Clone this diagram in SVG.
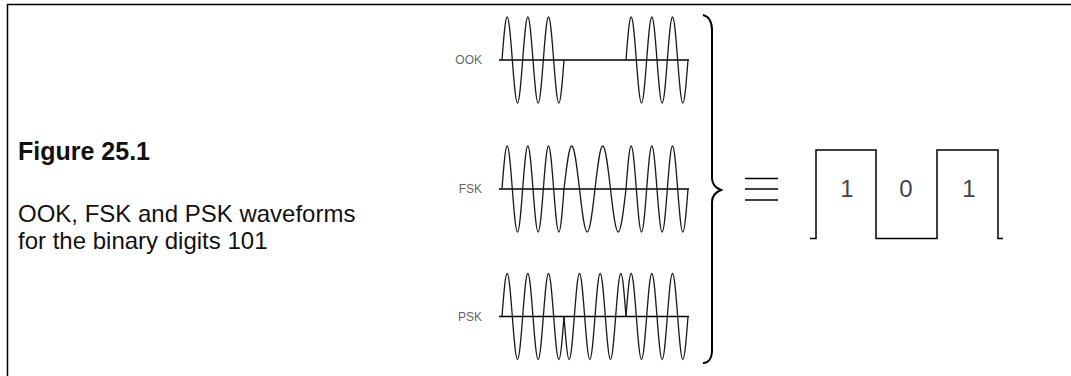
<svg xmlns="http://www.w3.org/2000/svg" xmlns:xlink="http://www.w3.org/1999/xlink" width="1071" height="376" viewBox="0 0 1071 376">
<style>
.txt{font-family:"Liberation Sans",Arial,sans-serif;fill:#111}
.lbl{font-family:"Liberation Sans",Arial,sans-serif;font-size:12px;fill:#666}
.dig{font-family:"Liberation Sans",Arial,sans-serif;font-size:24px;fill:#444;text-anchor:middle}
.wave{fill:none;stroke:#1a1a1a;stroke-width:1.3}
.axis{fill:none;stroke:#000;stroke-width:1.5}
.ln{fill:none;stroke:#000;stroke-width:1.5}
</style>
<defs>
<path id="b1" d="M0,0 c1.684,-22.02 3.296,-43 5.167,-43 c1.870,0 3.482,20.98 5.167,43 c1.684,22.02 3.296,43 5.167,43 c1.870,0 3.482,-20.98 5.167,-43 c1.684,-22.02 3.296,-43 5.167,-43 c1.870,0 3.482,20.98 5.167,43 c1.684,22.02 3.296,43 5.167,43 c1.870,0 3.482,-20.98 5.167,-43 c1.684,-22.02 3.296,-43 5.167,-43 c1.870,0 3.482,20.98 5.167,43 c1.684,22.02 3.296,43 5.167,43 c1.870,0 3.482,-20.98 5.167,-43"/>
<path id="b0" d="M0,0 c2.527,-22.02 4.945,-43 7.75,-43 c2.806,0 5.224,20.98 7.75,43 c2.527,22.02 4.945,43 7.75,43 c2.806,0 5.224,-20.98 7.75,-43 c2.527,-22.02 4.945,-43 7.75,-43 c2.806,0 5.224,20.98 7.75,43 c2.527,22.02 4.945,43 7.75,43 c2.806,0 5.224,-20.98 7.75,-43"/>
</defs>
<path id="frame" class="ln" d="M7.5,376 V4.5 H1071"/>
<g id="caption">
<text class="txt" x="18" y="160" font-size="25" font-weight="bold">Figure 25.1</text>
<text class="txt" x="18" y="222" font-size="24">OOK, FSK and PSK waveforms</text>
<text class="txt" x="18" y="249" font-size="24">for the binary digits 101</text>
</g>
<g id="ook">
<text class="lbl" x="482" y="64" text-anchor="end">OOK</text>
<line class="axis" x1="499" y1="60" x2="689" y2="60"/>
<use class="wave" xlink:href="#b1" x="502" y="60"/>
<use class="wave" xlink:href="#b1" x="626" y="60"/>
</g>
<g id="fsk">
<text class="lbl" x="482" y="193" text-anchor="end">FSK</text>
<line class="axis" x1="499" y1="189" x2="689" y2="189"/>
<use class="wave" xlink:href="#b1" x="502" y="189"/>
<use class="wave" xlink:href="#b0" x="564" y="189"/>
<use class="wave" xlink:href="#b1" x="626" y="189"/>
</g>
<g id="psk">
<text class="lbl" x="482" y="321" text-anchor="end">PSK</text>
<line class="axis" x1="499" y1="316.5" x2="689" y2="316.5"/>
<use class="wave" xlink:href="#b1" x="502" y="316.5"/>
<use class="wave" xlink:href="#b1" transform="translate(564,316.5) scale(1,-1)"/>
<use class="wave" xlink:href="#b1" x="626" y="316.5"/>
</g>
<g id="brace">
<path d="M703,15 C708,16 712,21 712,30 V178 C712,184 716,188 721,190 C716,192 712,196 712,202 V350 C712,359 708,363 703,363" fill="none" stroke="#000" stroke-width="2"/>
</g>
<g id="equiv">
<path class="ln" d="M745,178.5 H778 M745,189 H778 M745,200 H778"/>
</g>
<g id="bits">
<path class="ln" d="M810,238.5 H816 V150 H876 V238.5 H937 V150 H998 V238.5 H1003"/>
<text class="dig" x="847" y="197">1</text>
<text class="dig" x="906" y="197">0</text>
<text class="dig" x="969" y="197">1</text>
</g>
</svg>
